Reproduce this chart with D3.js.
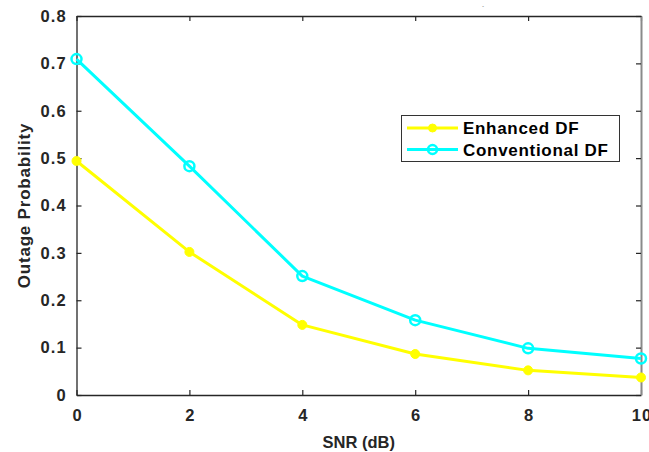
<!DOCTYPE html>
<html><head><meta charset="utf-8">
<script src="https://cdn.jsdelivr.net/npm/d3@7"></script>
<style>body{margin:0;background:#fff;} svg{display:block;font-family:"Liberation Sans",Arial,sans-serif;}</style>
</head><body>
<script>
const snr = [0, 2, 4, 6, 8, 10];
const enhancedDF = [0.494, 0.302, 0.148, 0.0865, 0.052, 0.037];
const conventionalDF = [0.709, 0.483, 0.251, 0.158, 0.0985, 0.077];
const xTicks = [0, 2, 4, 6, 8, 10];
const yTicks = [0, 0.1, 0.2, 0.3, 0.4, 0.5, 0.6, 0.7, 0.8];
const seriesNames = ["Enhanced DF", "Conventional DF"];

const W = 649, H = 452;
const m = {l: 76.5, r: 8, t: 16, b: 57};
const svg = d3.select("body").append("svg").attr("width", W).attr("height", H);
const x = d3.scaleLinear().domain([0, 10]).range([m.l, W - m.r]);
const y = d3.scaleLinear().domain([0, 0.8]).range([H - m.b, m.t]);
const ink = "#262626";

// axes with box
const gx = svg.append("g").attr("transform", `translate(0,${y(0)})`)
  .call(d3.axisBottom(x).tickValues(xTicks).tickSizeInner(-5).tickSizeOuter(0).tickPadding(14).tickFormat(d3.format("d")));
const gxt = svg.append("g").attr("transform", `translate(0,${y(0.8)})`)
  .call(d3.axisTop(x).tickValues(xTicks).tickSizeInner(-5).tickSizeOuter(0).tickFormat(""));
const gy = svg.append("g").attr("transform", `translate(${x(0)},0)`)
  .call(d3.axisLeft(y).tickValues(yTicks).tickSizeInner(-5).tickSizeOuter(0).tickPadding(9.5).tickFormat(d => d === 0 ? "0" : d3.format(".1f")(d)));
const gyr = svg.append("g").attr("transform", `translate(${x(10)},0)`)
  .call(d3.axisRight(y).tickValues(yTicks).tickSizeInner(-5).tickSizeOuter(0).tickFormat(""));
[gx, gxt, gy, gyr].forEach(g => {
  g.selectAll(".domain").attr("stroke", ink).attr("stroke-width", 1.3);
  g.selectAll(".tick line").attr("stroke", ink).attr("stroke-width", 1.2);
  g.selectAll("text").attr("fill", ink).attr("font-size", 16.5).attr("font-weight", "bold")
    .attr("letter-spacing", 1.2)
    .attr("font-family", "'Liberation Sans',Arial,sans-serif");
});
gx.selectAll("text").attr("dx", 0.6);
gyr.select(".domain").attr("stroke", "#8a8a8a").attr("stroke-width", 2);

// labels
svg.append("text").attr("x", (x(0) + x(10)) / 2).attr("y", 448).attr("text-anchor", "middle")
  .attr("font-size", 16.5).attr("font-weight", "bold").attr("fill", ink).text("SNR (dB)");
svg.append("text").attr("transform", `translate(29.5,${(y(0) + y(0.8)) / 2}) rotate(-90)`).attr("text-anchor", "middle")
  .attr("font-size", 17).attr("font-weight", "bold").attr("letter-spacing", 0.8).attr("fill", ink).text("Outage Probability");
svg.append("text").attr("x", 482).attr("y", 11).attr("font-size", 8).attr("fill", "#555").text("´");

const line = d3.line().x((d, i) => x(snr[i])).y(d => y(d));
const colors = ["#ffff00", "#00ffff"];
[enhancedDF, conventionalDF].forEach((s, k) => {
  svg.append("path").datum(s).attr("d", line).attr("fill", "none")
    .attr("stroke", colors[k]).attr("stroke-width", 3).attr("stroke-linejoin", "round");
  svg.selectAll(null).data(s).enter().append("circle")
    .attr("cx", (d, i) => x(snr[i])).attr("cy", d => y(d))
    .attr("r", k === 0 ? 4.5 : 5)
    .attr("fill", k === 0 ? colors[0] : "#fff").attr("fill-opacity", k === 0 ? 1 : 0)
    .attr("stroke", colors[k]).attr("stroke-width", k === 0 ? 1 : 2.5);
});

// legend
const lg = svg.append("g");
lg.append("rect").attr("x", 401.5).attr("y", 115.5).attr("width", 218).attr("height", 46)
  .attr("fill", "#fff").attr("stroke", "#333").attr("stroke-width", 1);
seriesNames.forEach((n, k) => {
  const yy = 128 + k * 21.5;
  lg.append("line").attr("x1", 407).attr("x2", 458).attr("y1", yy).attr("y2", yy)
    .attr("stroke", colors[k]).attr("stroke-width", 3);
  lg.append("circle").attr("cx", 432.5).attr("cy", yy).attr("r", k === 0 ? 4 : 4.5)
    .attr("fill", k === 0 ? colors[0] : "none").attr("stroke", colors[k]).attr("stroke-width", k === 0 ? 1 : 2.5);
  lg.append("text").attr("x", 463).attr("y", yy + 6).attr("font-size", 17).attr("font-weight", "bold")
    .attr("letter-spacing", 0.7).attr("fill", "#000").text(n);
});
</script>
</body></html>
